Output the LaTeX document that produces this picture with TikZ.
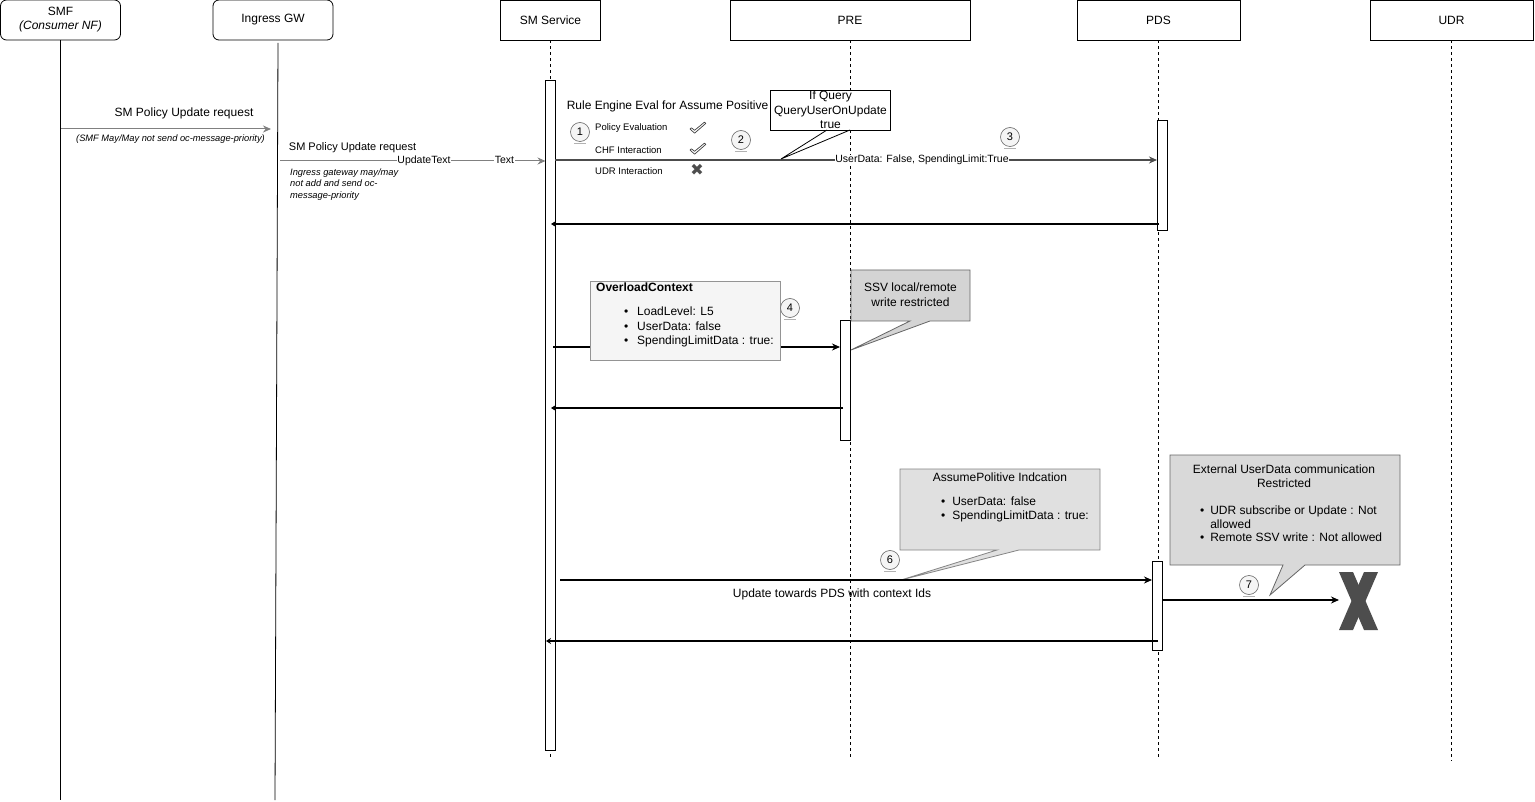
\documentclass[tikz,border=0pt]{standalone}
\usepackage{fontspec}
\setmainfont{Liberation Sans}
\newfontfamily\dejavu{DejaVu Sans}
\usetikzlibrary{arrows.meta,calc}
\definecolor{boxgray}{HTML}{D9D9D9}
\definecolor{boxssv}{HTML}{D4D4D4}
\definecolor{boxlight}{HTML}{E0E0E0}
\definecolor{boxpale}{HTML}{F5F5F5}
\definecolor{edgegray}{HTML}{666666}
\definecolor{xgray}{HTML}{4D4D4D}
\newcommand{\mybul}{\textbullet}
\begin{document}
\begin{tikzpicture}[x=1pt,y=-1pt,
 hdr/.style={draw=black,line width=0.8pt,minimum height=40pt,inner sep=0pt,align=center,font=\fontsize{12}{14}\selectfont},
 dashlife/.style={line width=0.8pt,dash pattern=on 3pt off 3pt},
 solidlife/.style={line width=0.8pt},
 actbar/.style={draw=black,fill=white,line width=0.9pt,minimum width=10pt,inner sep=0pt},
 msg/.style={line width=1.1pt,-{Stealth[length=8pt,width=7pt]}},
 graymsg/.style={line width=1pt,draw=gray,-{Stealth[length=8pt,width=7pt]}},
 retmsg/.style={line width=1.1pt,-{Stealth[length=5pt,width=6pt]}},
 numc/.style={circle,draw=edgegray,fill=boxpale,minimum size=19pt,inner sep=0pt,line width=0.6pt,font=\fontsize{11}{11}\selectfont},
 lbl/.style={inner sep=0.5pt,font=\fontsize{12}{14}\selectfont},
 midlbl/.style={inner sep=0.5pt,font=\fontsize{11}{13}\selectfont},
 onlbl/.style={inner sep=0.5pt,fill=white,font=\fontsize{10.5}{12}\selectfont},
 note/.style={inner sep=0pt,align=left,font=\fontsize{9.3}{11.5}\selectfont\itshape},
 tinylbl/.style={inner sep=0pt,anchor=west,font=\fontsize{9.5}{11}\selectfont},
 calloutline/.style={line width=0.8pt,draw=edgegray},
 boxtext/.style={inner sep=0pt,align=center,font=\fontsize{12}{14.5}\selectfont},
 listtext/.style={inner sep=0pt,anchor=west,font=\fontsize{12}{14.5}\selectfont},
 checkmark/.style={fill=white,draw=black!75,line width=0.7pt,line join=round},
 ]
\useasboundingbox (0,0) rectangle (1535,802);
\fill[white] (0,0) rectangle (1535,802);

% ---------- headers
\node[hdr,rounded corners=6pt,minimum width=120pt] (smf) at (60.5,20) {SMF\\\textit{(Consumer NF)}};
\node[hdr,rounded corners=6pt,minimum width=120pt] (igw) at (273,20) {Ingress GW};
\node[hdr,minimum width=100pt] (sms) at (550.5,20) {SM Service};
\node[hdr,minimum width=240pt] (pre) at (850,20) {PRE};
\node[hdr,minimum width=163pt] (pds) at (1158.5,20) {PDS};
\node[hdr,minimum width=163pt] (udr) at (1451.5,20) {UDR};

% ---------- lifelines
\coordinate (smfend) at (60.5,800);
\coordinate (igwtop) at (278,43);
\coordinate (igwend) at (275,800);
\coordinate (smsend) at (550.5,757);
\coordinate (preend) at (850,757);
\coordinate (pdsend) at (1158.5,757);
\coordinate (udrend) at (1451.5,761);
\draw[solidlife] (smf.south) -- (smfend);
\draw[solidlife] (igwtop) -- (igwend);
\draw[dashlife] (sms.south) -- (smsend);
\draw[dashlife] (pre.south) -- (preend);
\draw[dashlife] (pds.south) -- (pdsend);
\draw[dashlife] (udr.south) -- (udrend);

% ---------- activation bars
\node[actbar,minimum height=670pt] (smbar) at (550.5,415) {};
\node[actbar,minimum height=120pt] (prebar) at (845.5,380) {};
\node[actbar,minimum height=110pt] (pdsbar1) at (1162,175) {};
\node[actbar,minimum height=89pt] (pdsbar2) at (1157.5,605.5) {};

% ---------- message 1: SMF -> Ingress GW
\coordinate (m1a) at (61,129);
\coordinate (m1b) at (271,129);
\draw[graymsg] (m1a) -- (m1b);
\node[lbl] (m1t) at (184,113) {SM Policy Update request};
\node[note] (m1n) at (170.5,139) {(SMF May/May not send oc-message-priority)};

% ---------- message 2: Ingress GW -> SM Service
\coordinate (m2a) at (280,161);
\coordinate (m2b) at (545.5,161);
\draw[graymsg] (m2a) -- (m2b);
\node[midlbl] (m2t) at (352.5,148) {SM Policy Update request};
\node[onlbl] (m2u) at (424,161) {UpdateText};
\node[onlbl] (m2x) at (504.5,160) {Text};
\node[note,anchor=north west] (m2n) at (290,168.5) {Ingress gateway may/may\\not add and send oc-\\message-priority};

% ---------- rule engine block
\node[lbl] (rule) at (667.5,106) {Rule Engine Eval for Assume Positive};
\node[tinylbl] (pe) at (595,128) {Policy Evaluation};
\node[tinylbl] (chf) at (595,150) {CHF Interaction};
\node[tinylbl] (udri) at (595,171) {UDR Interaction};
\foreach \cy in {128,149}
  \draw[checkmark,shift={(698,\cy)}] (-8,1) -- (-6.6,-0.2) -- (-3.4,2.3) -- (6.4,-5.8) -- (7.8,-4.6) -- (-3.4,5.2) -- cycle;
\node[inner sep=0pt,text=xgray,font=\dejavu\fontsize{16}{16}\selectfont] (ck3) at (697,169.5) {✖};

% ---------- message 3: SM Service -> PDS
\coordinate (m3a) at (555,160);
\coordinate (m3b) at (1157,160);
\draw[msg,draw=black!70] (m3a) -- (m3b);
\node[onlbl] (m3t) at (922,160) {UserData: False, SpendingLimit:True};

% If Query callout
\node[draw=black,fill=white,line width=0.8pt,minimum width=120pt,minimum height=40pt,inner sep=0pt,align=center,font=\fontsize{12}{14.3}\selectfont] (iq) at (830.5,110) {If Query\\QueryUserOnUpdate\\true};
\coordinate (iqp1) at (827,130);
\coordinate (iqp2) at (850,130);
\coordinate (iqtip) at (781,159);
\draw[line width=0.8pt] (iqp1) -- (iqtip) -- (iqp2);

% return from PDS
\coordinate (r1a) at (1159,224);
\coordinate (r1b) at (551,224);
\draw[retmsg] (r1a) -- (r1b);

% ---------- message 4: SM Service -> PRE
\coordinate (m4a) at (553,347);
\coordinate (m4b) at (840,347);
\draw[msg] (m4a) -- (m4b);
\node[draw=edgegray!70,fill=boxpale,line width=0.8pt,minimum width=190pt,minimum height=79pt,inner sep=0pt] (ovl) at (685.5,320.5) {};
\node[anchor=west,inner sep=0pt,font=\bfseries\fontsize{12}{14}\selectfont] (ovlt) at (596,287) {OverloadContext};
\node[listtext] (ovlb) at (623.9,327.5) {\begin{tabular}{@{}l@{\hspace{8.9pt}}l@{}}\mybul & LoadLevel: L5\\ \mybul & UserData: false\\ \mybul & SpendingLimitData : true:\end{tabular}};

% SSV callout
\coordinate (ssv1) at (851,270);
\coordinate (ssv2) at (970,270);
\coordinate (ssv3) at (970,321);
\coordinate (ssvp2) at (930,321);
\coordinate (ssvtip) at (851,350);
\coordinate (ssvp1) at (910,321);
\coordinate (ssv4) at (851,321);
\draw[calloutline,fill=boxssv] (ssv1) -- (ssv2) -- (ssv3) -- (ssvp2) -- (ssvtip) -- (ssvp1) -- (ssv4) -- cycle;
\node[boxtext,font=\fontsize{12}{15}\selectfont] (ssvt) at (910.5,295) {SSV local/remote\\write restricted};

% return from PRE
\coordinate (r2a) at (843,408);
\coordinate (r2b) at (551,408);
\draw[retmsg] (r2a) -- (r2b);

% ---------- AssumePositive callout
\coordinate (ap1) at (900,469);
\coordinate (ap2) at (1100,469);
\coordinate (ap3) at (1100,550);
\coordinate (app2) at (1019,550);
\coordinate (aptip) at (901,580);
\coordinate (app1) at (997,550);
\coordinate (ap4) at (900,550);
\draw[calloutline,draw=edgegray!80,fill=boxlight] (ap1) -- (ap2) -- (ap3) -- (app2) -- (aptip) -- (app1) -- (ap4) -- cycle;
\node[boxtext] (apt) at (1000,477) {AssumePolitive Indcation};
\node[listtext] (apb) at (940.9,509.5) {\begin{tabular}{@{}l@{\hspace{7pt}}l@{}}\mybul & UserData: false\\ \mybul & SpendingLimitData : true:\end{tabular}};

% message 6: SM Service -> PDS
\coordinate (m6a) at (560,580);
\coordinate (m6b) at (1152,580);
\draw[msg] (m6a) -- (m6b);
\node[lbl] (m6t) at (832,594) {Update towards PDS with context Ids};

% ---------- External callout
\coordinate (ex1) at (1170,455);
\coordinate (ex2) at (1400,455);
\coordinate (ex3) at (1400,565);
\coordinate (exp2) at (1305,565);
\coordinate (extip) at (1270,595);
\coordinate (exp1) at (1283,565);
\coordinate (ex4) at (1170,565);
\draw[calloutline,fill=boxgray] (ex1) -- (ex2) -- (ex3) -- (exp2) -- (extip) -- (exp1) -- (ex4) -- cycle;
\node[boxtext,font=\fontsize{12}{14}\selectfont] (ext) at (1284,476) {External UserData communication\\Restricted};
\node[listtext,font=\fontsize{12}{13.7}\selectfont] (exb) at (1199.9,525.5) {\begin{tabular}{@{}l@{\hspace{6pt}}l@{}}\mybul & UDR subscribe or Update : Not\\ & allowed\\ \mybul & Remote SSV write : Not allowed\end{tabular}};

% message 7: PDS -> UDR (blocked)
\coordinate (m7a) at (1163,600);
\coordinate (m7b) at (1339,600);
\draw[msg] (m7a) -- (m7b);
\fill[xgray] (1339,572) -- (1353,572) -- (1378,630) -- (1364,630) -- cycle;
\fill[xgray] (1364,572) -- (1378,572) -- (1353,630) -- (1339,630) -- cycle;

% return from PDS
\coordinate (r3a) at (1158,641);
\coordinate (r3b) at (546,641);
\draw[retmsg] (r3a) -- (r3b);

% ---------- step numbers
\node[numc] (c1) at (580,132) {1};
\node[numc] (c2) at (741,140) {2};
\node[numc] (c3) at (1010,137) {3};
\node[numc] (c4) at (790,308) {4};
\node[numc] (c6) at (890,560) {6};
\node[numc] (c7) at (1249,585) {7};
\foreach \c in {c1,c2,c3,c4,c6,c7}
  \draw[gray!60,line width=1.2pt] ($(\c.south)+(-6,1.5)$) -- ($(\c.south)+(6,1.5)$);
\end{tikzpicture}
\end{document}
